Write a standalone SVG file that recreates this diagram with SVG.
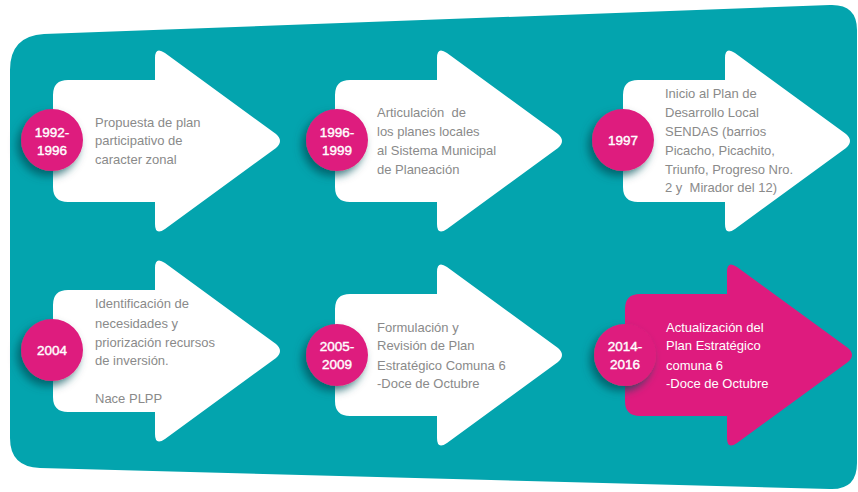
<svg xmlns="http://www.w3.org/2000/svg" xmlns:xlink="http://www.w3.org/1999/xlink" width="858" height="492" viewBox="0 0 858 492">
<defs>
<style>
text{white-space:pre}
.desc{font-family:"Liberation Sans",Arial,sans-serif;font-size:13px;fill:#8a8a8a}
.descw{font-family:"Liberation Sans",Arial,sans-serif;font-size:13px;fill:#ffffff}
.yr{font-family:"Liberation Sans",Arial,sans-serif;font-size:13.5px;fill:#ffffff;stroke:#ffffff;stroke-width:0.4;text-anchor:middle}
.dot{fill:#DE1B7E;filter:url(#sh)}
</style>
<filter id="sh" x="-60%" y="-60%" width="220%" height="220%">
<feGaussianBlur in="SourceAlpha" stdDeviation="4"/>
<feOffset dx="-4" dy="5" result="b"/>
<feFlood flood-color="#00515a" flood-opacity="0.75"/>
<feComposite in2="b" operator="in"/>
<feMerge><feMergeNode/><feMergeNode in="SourceGraphic"/></feMerge>
</filter>
<path id="arr" d="M 15,-61 L 102,-61 L 102,-83 Q 102,-95 112,-88 L 223,-7 Q 231,0 223,7 L 112,88 Q 102,95 102,83 L 102,61 L 15,61 Q 0,61 0,46 L 0,-46 Q 0,-61 15,-61 Z"/>
</defs>
<rect width="858" height="492" fill="#ffffff"/>
<path id="bg" d="M 10,70 Q 10,36 44,34 L 830,5 Q 857,4 857,30 L 857,463 Q 857,490 830,489 L 40,468 Q 10,467 10,438 Z" fill="#03A4AE"/>

<g id="n1">
<use xlink:href="#arr" href="#arr" transform="translate(53,141)" fill="#ffffff"/>
<circle class="dot" cx="52" cy="140" r="31"/>
<text class="yr" x="52" y="137">1992-</text>
<text class="yr" x="52" y="155">1996</text>
<text class="desc" x="95" y="127">Propuesta de plan</text>
<text class="desc" x="95" y="145">participativo de</text>
<text class="desc" x="95" y="164">caracter zonal</text>
</g>

<g id="n2">
<use xlink:href="#arr" href="#arr" transform="translate(335,141)" fill="#ffffff"/>
<circle class="dot" cx="337" cy="140" r="31"/>
<text class="yr" x="337" y="137">1996-</text>
<text class="yr" x="337" y="155">1999</text>
<text class="desc" x="377" y="117">Articulación  de</text>
<text class="desc" x="377" y="136">los planes locales</text>
<text class="desc" x="377" y="155">al Sistema Municipal</text>
<text class="desc" x="377" y="174">de Planeación</text>
</g>

<g id="n3">
<use xlink:href="#arr" href="#arr" transform="translate(623,141)" fill="#ffffff"/>
<circle class="dot" cx="623" cy="140" r="31"/>
<text class="yr" x="623" y="145">1997</text>
<text class="desc" x="665" y="98">Inicio al Plan de</text>
<text class="desc" x="665" y="117">Desarrollo Local</text>
<text class="desc" x="665" y="136">SENDAS (barrios</text>
<text class="desc" x="665" y="155">Picacho, Picachito,</text>
<text class="desc" x="665" y="174">Triunfo, Progreso Nro.</text>
<text class="desc" x="665" y="192">2 y  Mirador del 12)</text>
</g>

<g id="n4">
<use xlink:href="#arr" href="#arr" transform="translate(53,351)" fill="#ffffff"/>
<circle class="dot" cx="52" cy="350" r="31"/>
<text class="yr" x="52" y="355">2004</text>
<text class="desc" x="95" y="308">Identificación de</text>
<text class="desc" x="95" y="328">necesidades y</text>
<text class="desc" x="95" y="347">priorización recursos</text>
<text class="desc" x="95" y="365">de inversión.</text>
<text class="desc" x="95" y="403">Nace PLPP</text>
</g>

<g id="n5">
<use xlink:href="#arr" href="#arr" transform="translate(335,355)" fill="#ffffff"/>
<circle class="dot" cx="337" cy="355" r="31"/>
<text class="yr" x="337" y="351">2005-</text>
<text class="yr" x="337" y="369">2009</text>
<text class="desc" x="377" y="332">Formulación y</text>
<text class="desc" x="377" y="350">Revisión de Plan</text>
<text class="desc" x="377" y="370">Estratégico Comuna 6</text>
<text class="desc" x="377" y="388">-Doce de Octubre</text>
</g>

<g id="n6">
<use xlink:href="#arr" href="#arr" transform="translate(625,355)" fill="#DE1B7E"/>
<circle class="dot" cx="625" cy="355" r="31"/>
<text class="yr" x="625" y="351">2014-</text>
<text class="yr" x="625" y="369">2016</text>
<text class="descw" x="666" y="332">Actualización del</text>
<text class="descw" x="666" y="350">Plan Estratégico</text>
<text class="descw" x="666" y="370">comuna 6</text>
<text class="descw" x="666" y="388">-Doce de Octubre</text>
</g>

<g id="connectors"></g>
</svg>
